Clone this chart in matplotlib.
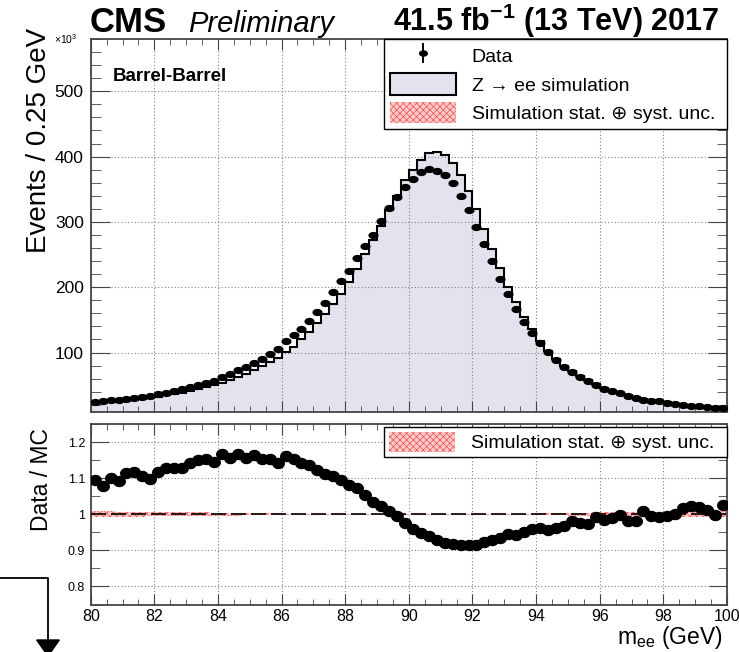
import numpy as np
import matplotlib
matplotlib.use("Agg")
import matplotlib.pyplot as plt
from matplotlib.patches import Patch, Polygon
from matplotlib.lines import Line2D
from matplotlib.legend_handler import HandlerTuple
from matplotlib.ticker import MultipleLocator, FixedLocator
from matplotlib.path import Path

plt.rcParams['font.family'] = ['Liberation Sans', 'DejaVu Sans']
plt.rcParams['mathtext.fontset'] = 'custom'
plt.rcParams['mathtext.rm'] = 'Liberation Sans'
plt.rcParams['mathtext.it'] = 'Liberation Sans:italic'
plt.rcParams['mathtext.bf'] = 'Liberation Sans:bold'
plt.rcParams['hatch.linewidth'] = 0.5

# ---------------- data (x 10^3 events per 0.25 GeV) ----------------
x_min, x_max, bin_width = 80.0, 100.0, 0.25

mc_counts = [
    21.8, 22.9, 24.0, 25.1, 26.4, 27.6, 29.0, 30.6, 32.5, 34.3,
    36.2, 38.7, 41.3, 43.7, 46.8, 50.0, 53.8, 57.9, 62.5, 67.8,
    73.4, 79.0, 85.8, 92.3, 100.6, 109.2, 120.4, 131.1, 144.8, 159.0,
    174.3, 190.0, 208.3, 228.2, 250.5, 272.9, 294.3, 317.6, 340.0, 364.4,
    379.7, 395.4, 405.6, 406.6, 403.1, 389.8, 372.5, 347.1, 319.2, 288.7,
    258.7, 228.7, 200.2, 176.8, 154.9, 135.6, 117.8, 103.1, 90.4, 79.2,
    71.8, 64.7, 57.6, 51.5, 46.2, 41.9, 38.3, 35.0, 32.0, 29.0,
    26.8, 25.2, 23.6, 22.0, 20.2, 18.6, 17.4, 16.3, 15.4, 14.5]

data_counts = [
    23.9, 25.4, 27.0, 27.5, 29.5, 30.5, 32.1, 33.6, 36.7, 38.7,
    40.7, 43.8, 47.4, 49.9, 54.0, 57.1, 62.7, 66.8, 72.9, 78.5,
    84.7, 90.4, 98.0, 105.6, 117.3, 127.0, 136.7, 148.9, 161.6, 176.3,
    192.1, 208.8, 224.6, 244.9, 263.8, 280.5, 301.9, 320.7, 338.0, 353.2,
    365.4, 376.1, 380.7, 378.6, 371.5, 358.8, 340.0, 317.6, 292.7, 265.8,
    239.4, 212.9, 189.0, 166.1, 146.8, 129.5, 115.3, 101.1, 88.4, 78.2,
    70.4, 63.2, 56.1, 50.4, 44.8, 41.3, 38.2, 34.1, 30.6, 28.0,
    26.4, 25.4, 23.4, 21.8, 20.3, 18.8, 17.8, 16.7, 15.7, 14.7]

ratio_values = [
    1.095, 1.077, 1.101, 1.091, 1.114, 1.118, 1.105, 1.099, 1.118, 1.127,
    1.127, 1.127, 1.142, 1.150, 1.152, 1.145, 1.167, 1.155, 1.167, 1.155,
    1.164, 1.152, 1.152, 1.142, 1.160, 1.152, 1.142, 1.136, 1.122, 1.112,
    1.105, 1.095, 1.082, 1.073, 1.052, 1.035, 1.024, 1.010, 0.994, 0.975,
    0.960, 0.948, 0.939, 0.928, 0.921, 0.918, 0.916, 0.916, 0.916, 0.922,
    0.928, 0.935, 0.946, 0.942, 0.950, 0.958, 0.963, 0.956, 0.962, 0.967,
    0.980, 0.977, 0.974, 0.993, 0.984, 0.990, 0.997, 0.981, 0.981, 1.009,
    0.994, 0.992, 0.994, 1.002, 1.016, 1.022, 1.020, 1.013, 0.997, 1.025]

rel_unc = [
    0.008, 0.008, 0.008, 0.007, 0.007, 0.007, 0.007, 0.006, 0.006, 0.006,
    0.006, 0.005, 0.005, 0.005, 0.005, 0.004, 0.004, 0.004, 0.004, 0.003,
    0.003, 0.003, 0.003, 0.003, 0.002, 0.002, 0.002, 0.002, 0.002, 0.002,
    0.002, 0.002, 0.001, 0.001, 0.001, 0.001, 0.001, 0.001, 0.001, 0.001,
    0.001, 0.001, 0.001, 0.001, 0.001, 0.001, 0.001, 0.001, 0.001, 0.001,
    0.001, 0.001, 0.002, 0.002, 0.002, 0.002, 0.003, 0.003, 0.003, 0.003,
    0.004, 0.004, 0.004, 0.005, 0.005, 0.005, 0.006, 0.006, 0.006, 0.007,
    0.007, 0.007, 0.007, 0.008, 0.008, 0.008, 0.008, 0.009, 0.009, 0.009]

ratio_ticks = [0.8, 0.9, 1.0, 1.1, 1.2]
ratio_tick_labels = ['0.8', '0.9', '1', '1.1', '1.2']

# ---------------- derived arrays ----------------
mc = np.array(mc_counts)
data = np.array(data_counts)
ratio = np.array(ratio_values)
unc = np.array(rel_unc)
edges = np.linspace(x_min, x_max, len(mc) + 1)
centers = 0.5 * (edges[:-1] + edges[1:])

# ---------------- styles ----------------
W, H = 739, 652
fill_col = '#e3e3ee'
unc_face = '#ffcccc'
unc_edge = '#ff4a4a'
frame_col = '#444444'
grid_kw = dict(color='#808080', ls=(0, (1, 2)), lw=0.8)

t = np.linspace(0, 2 * np.pi, 40)
ellipse_top = Path(np.column_stack([1.5 * np.cos(t), np.sin(t)]))
ellipse_ratio = Path(np.column_stack([1.15 * np.cos(t), np.sin(t)]))

fig = plt.figure(figsize=(W / 100, H / 100), dpi=100)

def fx(px):
    return px / W

def fy(py):
    return 1 - py / H

ax1 = fig.add_axes([fx(90.7), fy(412), fx(727) - fx(90.7), fy(39) - fy(412)])
ax2 = fig.add_axes([fx(90.7), fy(604.5), fx(727) - fx(90.7), fy(424) - fy(604.5)])

# ---------------- top panel ----------------
ax1.stairs(mc, edges, fill=True, color=fill_col, zorder=1)
ax1.stairs(mc * (1 + unc), edges, baseline=mc * (1 - unc), fill=True,
           facecolor=unc_face, edgecolor=unc_edge, hatch='xxxxx', lw=0, zorder=2)
ax1.stairs(mc, edges, baseline=None, color='black', lw=1.5, zorder=3)
ax1.plot(centers, data, ls='none', marker=ellipse_top, ms=6.3, color='black', zorder=4)

ax1.set_xlim(x_min, x_max)
ax1.set_ylim(9, 580)
ax1.xaxis.set_major_locator(MultipleLocator(2))
ax1.xaxis.set_minor_locator(MultipleLocator(0.5))
ax1.yaxis.set_major_locator(MultipleLocator(100))
ax1.yaxis.set_minor_locator(MultipleLocator(20))
ax1.tick_params(which='both', direction='in', top=True, right=True, color=frame_col,
                labelbottom=False)
ax1.tick_params(axis='y', which='major', length=14, labelsize=12.5, pad=5)
ax1.tick_params(axis='y', which='minor', length=7)
ax1.tick_params(axis='x', which='major', length=8)
ax1.tick_params(axis='x', which='minor', length=4)
ax1.grid(True, which='major', **grid_kw)
for s in ax1.spines.values():
    s.set_color(frame_col)
    s.set_linewidth(1.3)

h_data = (Line2D([], [], color='black', marker='|', ms=14, mew=1.4, ls='none'),
          Line2D([], [], color='black', marker=ellipse_top, ms=5.5, ls='none'))
h_mc = Patch(facecolor=fill_col, edgecolor='black', lw=1.5)
h_unc = Patch(facecolor=unc_face, edgecolor=unc_edge, hatch='xxxxx', lw=0)

leg1 = ax1.legend([h_data, h_mc, h_unc],
                  ['Data', 'Z \u2192 ee simulation', 'Simulation stat. \u2295 syst. unc.'],
                  handler_map={tuple: HandlerTuple(ndivide=1)},
                  loc='upper left', bbox_to_anchor=(0.461, 0.767, 0.539, 0.233),
                  mode='expand', borderaxespad=0, fancybox=False, edgecolor='black',
                  framealpha=1, fontsize=14, handlelength=3.4, handleheight=1.3,
                  labelspacing=0.38, handletextpad=0.8, borderpad=0.3)
leg1.get_frame().set_linewidth(1.0)
leg1.set_zorder(10)

# ---------------- ratio panel ----------------
ax2.stairs(1 + unc, edges, baseline=1 - unc, fill=True, facecolor=unc_face,
           edgecolor=unc_edge, hatch='xxxxx', lw=0, zorder=2)
ax2.axhline(1.0, color='black', ls=(0, (9, 3)), lw=1.2, zorder=3)
ax2.plot(centers, ratio, ls='none', marker=ellipse_ratio, ms=8.3, color='black', zorder=4)

ax2.set_xlim(x_min, x_max)
ax2.set_ylim(0.75, 1.25)
ax2.xaxis.set_major_locator(MultipleLocator(2))
ax2.xaxis.set_minor_locator(MultipleLocator(0.5))
ax2.yaxis.set_major_locator(FixedLocator(ratio_ticks))
ax2.set_yticklabels(ratio_tick_labels)
ax2.yaxis.set_minor_locator(MultipleLocator(0.05))
ax2.tick_params(which='both', direction='in', top=True, right=True, color=frame_col)
ax2.tick_params(axis='y', which='major', length=13, labelsize=9, pad=4)
ax2.tick_params(axis='y', which='minor', length=6.5)
ax2.tick_params(axis='x', which='major', length=8, labelsize=11.5, pad=3)
ax2.tick_params(axis='x', which='minor', length=4)
ax2.grid(True, which='major', **grid_kw)
for s in ax2.spines.values():
    s.set_color(frame_col)
    s.set_linewidth(1.3)

leg2 = ax2.legend([h_unc], ['Simulation stat. \u2295 syst. unc.'],
                  loc='upper left', bbox_to_anchor=(0.461, 0.822, 0.539, 0.161),
                  mode='expand', borderaxespad=0, fancybox=False, edgecolor='black',
                  framealpha=1, fontsize=14, handlelength=3.4, handleheight=1.2,
                  handletextpad=0.8, borderpad=0.25)
leg2.get_frame().set_linewidth(1.0)
leg2.set_zorder(10)

# ---------------- texts ----------------
fig.text(fx(90), fy(31.5), 'CMS', fontsize=25, fontweight='bold', ha='left', va='baseline')
fig.text(fx(188), fy(31.5), 'Preliminary', fontsize=21, fontstyle='italic',
         ha='left', va='baseline')
fig.text(fx(719), fy(31.5), r'41.5 fb$^{\mathbf{-1}}$ (13 TeV) 2017', fontsize=22,
         fontweight='bold', ha='right', va='baseline')
fig.text(fx(54), fy(44), r'$\times$10$^{3}$', fontsize=7.5, ha='left', va='baseline')
fig.text(fx(113), fy(81), 'Barrel-Barrel', fontsize=13.5, fontweight='bold',
         ha='left', va='baseline')
fig.text(fx(39), fy(28), 'Events / 0.25 GeV', fontsize=20, rotation=90,
         ha='center', va='top')
fig.text(fx(41), fy(428), 'Data / MC', fontsize=16.5, rotation=90, ha='center', va='top')
fig.text(fx(723), fy(644), r'm$_{\mathrm{ee}}$ (GeV)', fontsize=16.5, ha='right',
         va='baseline')

# stray arrow at the lower left
fig.add_artist(Line2D([fx(0), fx(47.7), fx(47.7)], [fy(578.3), fy(578.3), fy(641)],
                      color='black', lw=1.3, transform=fig.transFigure))
fig.add_artist(Polygon([(fx(36.7), fy(640)), (fx(59.3), fy(640)), (fx(48), fy(656))],
                       closed=True, color='black', transform=fig.transFigure))

fig.savefig('out.png', dpi=100)
